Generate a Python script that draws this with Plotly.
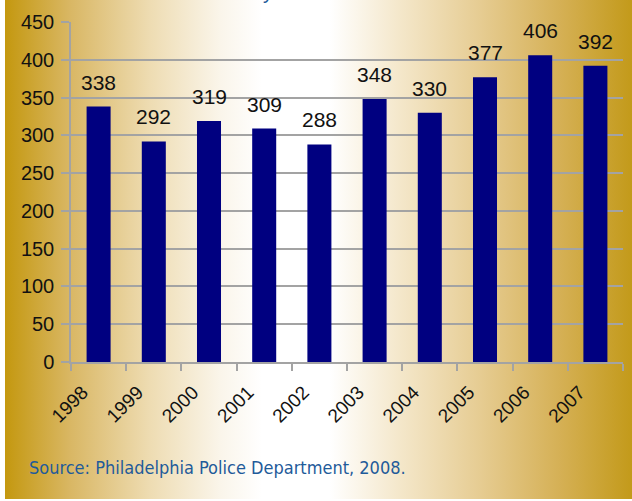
import base64
import plotly.graph_objects as go

years = ["1998", "1999", "2000", "2001", "2002", "2003", "2004", "2005", "2006", "2007"]
homicides = [338, 292, 319, 309, 288, 348, 330, 377, 406, 392]
y_ticks = [0, 50, 100, 150, 200, 250, 300, 350, 400, 450]
source_text = "Source: Philadelphia Police Department, 2008."

# horizontal gold -> white -> gold background gradient
stops = [
    (0.000, "#C4980F"), (0.104, "#D9B764"), (0.231, "#EEDCB2"), (0.343, "#FAF5EA"),
    (0.410, "#FFFFFF"), (0.518, "#FFFFFF"), (0.630, "#F4E7CA"), (0.758, "#E6CC92"),
    (0.885, "#D5B055"), (1.000, "#C39A1A"),
]
stop_xml = "".join(f'<stop offset="{o}" stop-color="{c}"/>' for o, c in stops)
svg = ('<svg xmlns="http://www.w3.org/2000/svg" width="627" height="499" '
       'preserveAspectRatio="none" viewBox="0 0 627 499">'
       f'<defs><linearGradient id="g" x1="0" y1="0" x2="1" y2="0">{stop_xml}</linearGradient></defs>'
       '<rect x="0" y="0" width="627" height="499" fill="url(#g)"/></svg>')
bg_src = "data:image/svg+xml;base64," + base64.b64encode(svg.encode()).decode()

W, H = 632, 501
L, R, T, B = 71, 9, 22, 139
pw, ph = W - L - R, H - T - B

SANS = "Liberation Sans"
NARROW = "DejaVu Sans Condensed"

def px_to_paper_x(px):
    return (px - L) / pw

def px_to_paper_y(py):
    return (H - B - py) / ph

fig = go.Figure()
fig.add_trace(go.Bar(x=years, y=homicides, marker=dict(color="#000080", line=dict(width=0)),
                     hoverinfo="skip"))

for i, v in enumerate(homicides):
    fig.add_annotation(x=i, y=v, text=str(v), showarrow=False, yanchor="bottom",
                       yshift=11, font=dict(family=SANS, size=21, color="#111111"))

fig.add_annotation(xref="paper", yref="paper", x=px_to_paper_x(27), y=px_to_paper_y(467),
                   xanchor="left", yanchor="middle", text=source_text, showarrow=False,
                   font=dict(family=NARROW, size=18, color="#1F5B9A"))

# cut-off title fragment at the top edge
fig.add_annotation(xref="paper", yref="paper", x=px_to_paper_x(268), y=px_to_paper_y(5),
                   xanchor="center", yanchor="bottom", text="y", showarrow=False,
                   font=dict(family=SANS, size=20, color="#1F5B9A"))

fig.add_layout_image(dict(source=bg_src, xref="paper", yref="paper",
                          x=px_to_paper_x(5), y=px_to_paper_y(0),
                          sizex=627 / pw, sizey=499 / ph,
                          xanchor="left", yanchor="top", sizing="stretch", layer="below"))

axis_gray = "#A3A3A3"
fig.update_layout(
    width=W, height=H,
    margin=dict(l=L, r=R, t=T, b=B, pad=0),
    paper_bgcolor="white", plot_bgcolor="rgba(0,0,0,0)",
    bargap=0.565, showlegend=False,
    font=dict(family=SANS, size=20, color="#111111"),
    xaxis=dict(type="category", range=[-0.5, len(years) - 0.5], tickson="boundaries",
               ticks="outside", ticklen=7,
               tickcolor=axis_gray, tickwidth=1.5, showline=True, linecolor=axis_gray,
               linewidth=1.5, tickangle=-45, showgrid=False,
               ticklabelshift=-16, ticklabelstandoff=10,
               tickfont=dict(family=SANS, size=19, color="#111111")),
    yaxis=dict(range=[0, 450], tickvals=y_ticks, ticks="outside", ticklen=8,
               tickcolor=axis_gray, tickwidth=1.5, showline=True, linecolor=axis_gray,
               linewidth=1.5, showgrid=True, gridcolor=axis_gray, gridwidth=1.5,
               zeroline=False, ticklabelstandoff=3,
               tickfont=dict(family=SANS, size=20, color="#111111")),
)

fig.write_html("out.html", config={"displayModeBar": False},
               post_script="document.body.style.margin='0';")
